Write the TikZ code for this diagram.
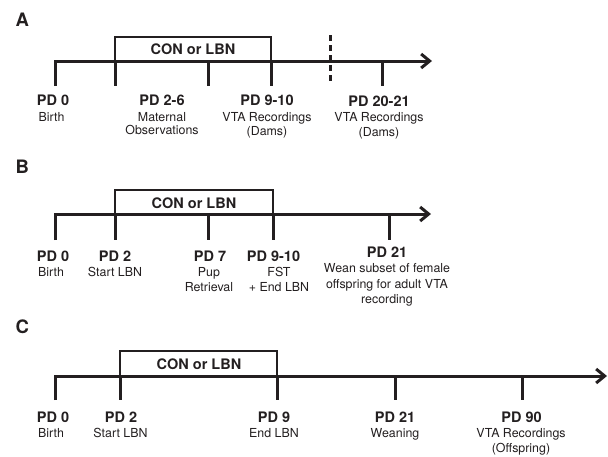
\documentclass[tikz,border=0pt]{standalone}
\usepackage{fontspec}
\setmainfont{TeX Gyre Heros}
\usetikzlibrary{arrows.meta}
\definecolor{ink}{HTML}{231F20}
\begin{document}
\begin{tikzpicture}[x=1pt,y=-1pt,
  axis/.style={line width=3pt, draw=ink, -{Straight Barb[length=8.5pt,width=14pt]}},
  tickline/.style={line width=3pt, draw=ink},
  boxline/.style={line width=2.6pt, draw=ink},
  dashline/.style={line width=3pt, draw=ink, dash pattern=on 6pt off 4pt},
  ttl/.style={font=\fontsize{14.5}{17}\selectfont\bfseries, anchor=base, inner sep=0pt, text=ink},
  bdy/.style={font=\fontsize{12.4}{14}\selectfont, anchor=base, inner sep=0pt, text=ink},
  panel/.style={font=\fontsize{18.5}{22}\selectfont\bfseries, anchor=base west, inner sep=0pt, text=ink},
  boxtxt/.style={font=\fontsize{14.5}{17}\selectfont\bfseries, anchor=base, inner sep=0pt, text=ink},
]
\useasboundingbox (0,0) rectangle (608,456);

% ---------------- Panel A ----------------
\node[panel] (pA) at (15.5,26.7) {A};
\coordinate (a0b) at (55,86);
\coordinate (a0) at (55,61);
\coordinate (aend) at (432,61);
\coordinate (a1) at (115,61);  \coordinate (a1b) at (115,86);
\coordinate (a2) at (208,61);  \coordinate (a2b) at (208,86);
\coordinate (a3) at (271,61);  \coordinate (a3b) at (271,86);
\coordinate (a4) at (382,61);  \coordinate (a4b) at (382,86);
\coordinate (a1t) at (115,37); \coordinate (a3t) at (271,37);
\coordinate (adt) at (330,35); \coordinate (adb) at (330,81);
\draw[axis] (a0b) -- (a0) -- (aend);
\draw[tickline] (a1) -- (a1b);
\draw[tickline] (a2) -- (a2b);
\draw[tickline] (a3) -- (a3b);
\draw[tickline] (a4) -- (a4b);
\draw[boxline] (a1) -- (a1t) -- (a3t) -- (a3);
\draw[dashline] (adt) -- (adb);
\node[boxtxt] (aBox) at (193,54.2) {CON or LBN};
\node[ttl] (aT0) at (53,105) {PD 0};
\node[bdy] (aB0) at (51.5,121.5) {Birth};
\node[ttl] (aT1) at (162,105) {PD 2-6};
\node[bdy] (aB1a) at (162,121.5) {Maternal};
\node[bdy] (aB1b) at (162,134.5) {Observations};
\node[ttl] (aT2) at (267,105) {PD 9-10};
\node[bdy] (aB2a) at (267,121.5) {VTA Recordings};
\node[bdy] (aB2b) at (267,135) {(Dams)};
\node[ttl] (aT3) at (379,106) {PD 20-21};
\node[bdy] (aB3a) at (379,121.5) {VTA Recordings};
\node[bdy] (aB3b) at (379,136) {(Dams)};

% ---------------- Panel B ----------------
\node[panel] (pB) at (15.5,173.3) {B};
\coordinate (b0b) at (55,240);
\coordinate (b0) at (55,214);
\coordinate (bend) at (431,214);
\coordinate (b1) at (115,214);  \coordinate (b1b) at (115,240);
\coordinate (b2) at (208,214);  \coordinate (b2b) at (208,240);
\coordinate (b3) at (273,214);  \coordinate (b3b) at (273,240);
\coordinate (b4) at (389,214);  \coordinate (b4b) at (389,240);
\coordinate (b1t) at (115,190); \coordinate (b3t) at (273,190);
\draw[axis] (b0b) -- (b0) -- (bend);
\draw[tickline] (b1) -- (b1b);
\draw[tickline] (b2) -- (b2b);
\draw[tickline] (b3) -- (b3b);
\draw[tickline] (b4) -- (b4b);
\draw[boxline] (b1) -- (b1t) -- (b3t) -- (b3);
\node[boxtxt] (bBox) at (194,208.5) {CON or LBN};
\node[ttl] (bT0) at (53,261) {PD 0};
\node[bdy] (bB0) at (51,276.5) {Birth};
\node[ttl] (bT1) at (115,261) {PD 2};
\node[bdy] (bB1) at (115,276.5) {Start LBN};
\node[ttl] (bT2) at (210,261) {PD 7};
\node[bdy] (bB2a) at (209,276.5) {Pup};
\node[bdy] (bB2b) at (209,291.5) {Retrieval};
\node[ttl] (bT3) at (273.5,261) {PD 9-10};
\node[bdy] (bB3a) at (279,276.5) {FST};
\node[bdy] (bB3b) at (279,291.5) {+ End LBN};
\node[ttl] (bT4) at (387,257) {PD 21};
\node[bdy] (bB4a) at (387,272.5) {Wean subset of female};
\node[bdy] (bB4b) at (387,288) {offspring for adult VTA};
\node[bdy] (bB4c) at (387,303.5) {recording};

% ---------------- Panel C ----------------
\node[panel] (pC) at (15.5,333.3) {C};
\coordinate (c0b) at (55,400);
\coordinate (c0) at (55,376);
\coordinate (cend) at (607,376);
\coordinate (c1) at (120,376);  \coordinate (c1b) at (120,400);
\coordinate (c2) at (277,376);  \coordinate (c2b) at (277,400);
\coordinate (c3) at (395,376);  \coordinate (c3b) at (395,400);
\coordinate (c4) at (522,376);  \coordinate (c4b) at (522,400);
\coordinate (c1t) at (120,351); \coordinate (c2t) at (277,351);
\draw[axis] (c0b) -- (c0) -- (cend);
\draw[tickline] (c1) -- (c1b);
\draw[tickline] (c2) -- (c2b);
\draw[tickline] (c3) -- (c3b);
\draw[tickline] (c4) -- (c4b);
\draw[boxline] (c1) -- (c1t) -- (c2t) -- (c2);
\node[boxtxt] (cBox) at (199,369) {CON or LBN};
\node[ttl] (cT0) at (53,422) {PD 0};
\node[bdy] (cB0) at (51,437.5) {Birth};
\node[ttl] (cT1) at (121,422) {PD 2};
\node[bdy] (cB1) at (120.5,437.5) {Start LBN};
\node[ttl] (cT2) at (274,422) {PD 9};
\node[bdy] (cB2) at (274,437.5) {End LBN};
\node[ttl] (cT3) at (395,422) {PD 21};
\node[bdy] (cB3) at (395,437.5) {Weaning};
\node[ttl] (cT4) at (521.5,422) {PD 90};
\node[bdy] (cB4a) at (521,437.5) {VTA Recordings};
\node[bdy] (cB4b) at (521,452) {(Offspring)};
\end{tikzpicture}
\end{document}
